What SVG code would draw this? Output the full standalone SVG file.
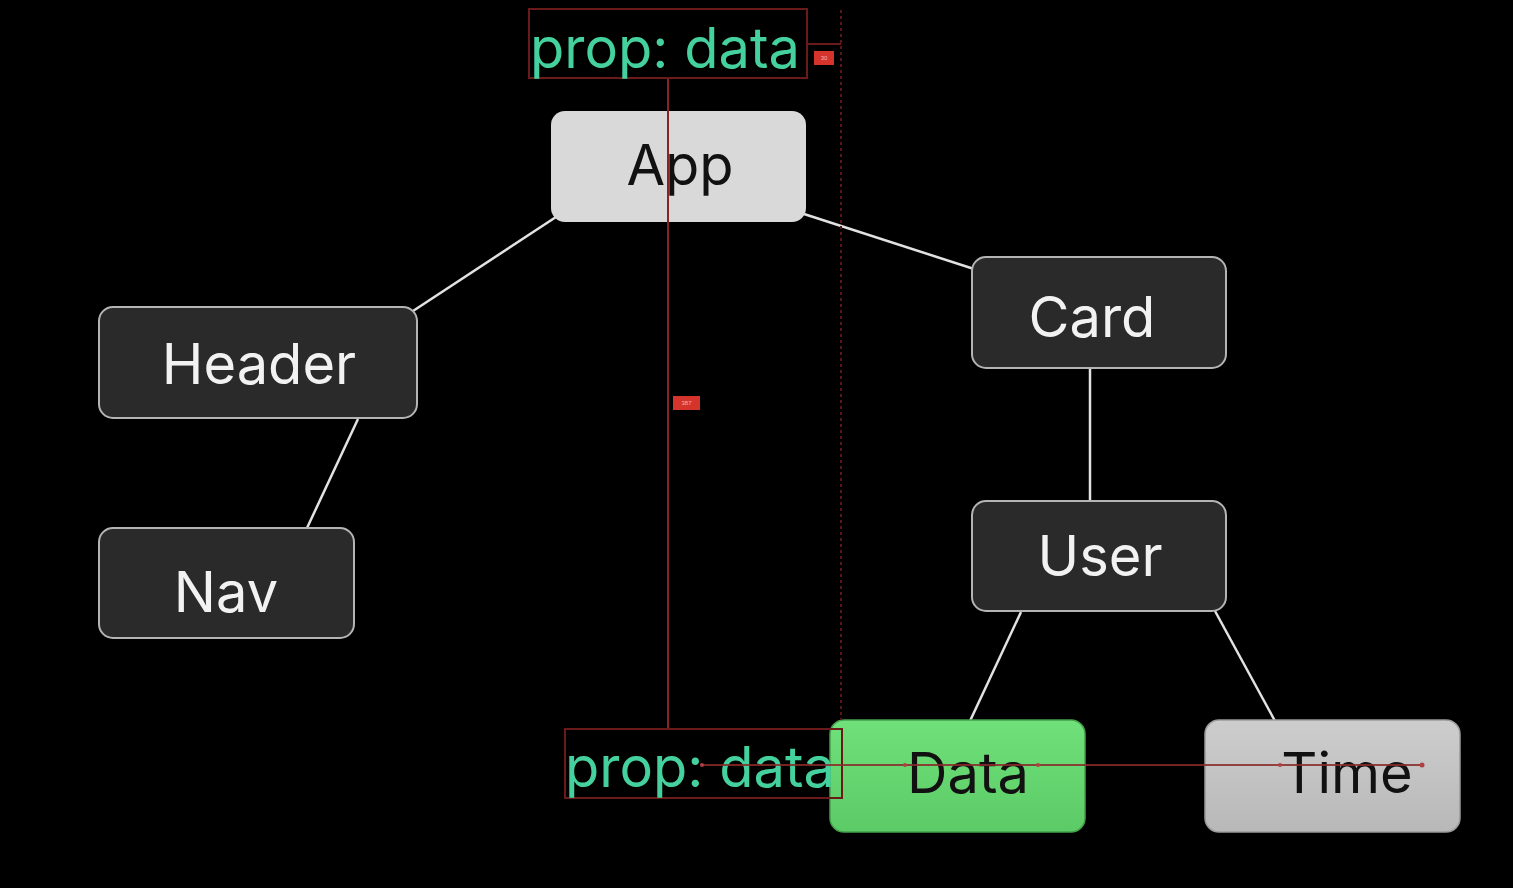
<svg xmlns="http://www.w3.org/2000/svg" width="1513" height="888" viewBox="0 0 1513 888">
<defs>
<style>
.dark rect{fill:#2a2a2a;stroke:#b4b4b4;stroke-width:2}
.lbl{font-family:Inter,"Liberation Sans",sans-serif;font-size:56px;text-anchor:middle}
.dark .lbl{fill:#f2f2f2}
.edge{stroke:#e2e2e2;stroke-width:2.5;fill:none}
.ov{stroke:#6b1a1a;stroke-width:2;fill:none}
.prop{font-family:Inter,"Liberation Sans",sans-serif;font-size:56px;fill:#45d19e}
.badge{fill:#d4342c}
.bt{font-family:"Liberation Sans",sans-serif;font-size:6px;fill:#f4b0a8;text-anchor:middle}
</style>
<linearGradient id="gGreen" x1="0" y1="0" x2="0" y2="1"><stop offset="0" stop-color="#6fe07a"/><stop offset="1" stop-color="#5ccb67"/></linearGradient>
<linearGradient id="gGray" x1="0" y1="0" x2="0" y2="1"><stop offset="0" stop-color="#cdcdcd"/><stop offset="1" stop-color="#b8b8b8"/></linearGradient>
</defs>
<rect width="1513" height="888" fill="#000"/>
<g id="connectors">
<line class="edge" x1="556" y1="217" x2="413" y2="311"/>
<line class="edge" x1="804" y1="214" x2="974" y2="269"/>
<line class="edge" x1="358" y1="419" x2="307" y2="528"/>
<line class="edge" x1="1090" y1="368" x2="1090" y2="501"/>
<line class="edge" x1="1021" y1="612" x2="970" y2="721"/>
<line class="edge" x1="1215" y1="611" x2="1275" y2="721"/>
</g>
<g id="node-app">
<rect x="551" y="111" width="255" height="111" rx="14" fill="#d9d9d9"/>
<text class="lbl" x="680" y="185" fill="#111">App</text>
</g>
<g id="node-header" class="dark">
<rect x="99" y="307" width="318" height="111" rx="14"/>
<text class="lbl" x="259" y="384">Header</text>
</g>
<g id="node-nav" class="dark">
<rect x="99" y="528" width="255" height="110" rx="14"/>
<text class="lbl" x="226" y="612">Nav</text>
</g>
<g id="node-card" class="dark">
<rect x="972" y="257" width="254" height="111" rx="14"/>
<text class="lbl" x="1092" y="337">Card</text>
</g>
<g id="node-user" class="dark">
<rect x="972" y="501" width="254" height="110" rx="14"/>
<text class="lbl" x="1100" y="576">User</text>
</g>
<g id="node-data">
<rect x="830" y="720" width="255" height="112" rx="14" fill="url(#gGreen)" stroke="#44a04c" stroke-width="1.5"/>
<text class="lbl" x="968" y="793" fill="#111">Data</text>
</g>
<g id="node-time">
<rect x="1205" y="720" width="255" height="112" rx="14" fill="url(#gGray)" stroke="#9a9a9a" stroke-width="1.5"/>
<text class="lbl" x="1347" y="793" fill="#111">Time</text>
</g>
<g id="overlay">
<line x1="841" y1="10" x2="841" y2="720" stroke="#5a1616" stroke-width="2" stroke-dasharray="3 3"/>
<line class="ov" x1="807" y1="44" x2="841" y2="44"/>
<rect class="ov" x="529" y="9" width="278" height="69"/>
<text class="prop" x="530" y="68">prop: data</text>
<line x1="668" y1="79" x2="668" y2="729" stroke="#8a2424" stroke-width="2"/>
<rect class="ov" x="565" y="729" width="277" height="69"/>
<text class="prop" x="565" y="787">prop: data</text>
<line x1="702" y1="765" x2="1422" y2="765" stroke="#8a2a2a" stroke-width="2" opacity="0.85"/>
<g fill="#b04040"><circle cx="702" cy="765" r="2"/><circle cx="905" cy="765" r="2"/><circle cx="1038" cy="765" r="2"/><circle cx="1280" cy="765" r="2"/><circle cx="1422" cy="765" r="2.5"/></g>
<rect class="badge" x="814" y="51" width="20" height="14"/>
<text class="bt" x="824" y="60">30</text>
<rect class="badge" x="673" y="396" width="27" height="14"/>
<text class="bt" x="686.5" y="405">387</text>
</g>
</svg>
